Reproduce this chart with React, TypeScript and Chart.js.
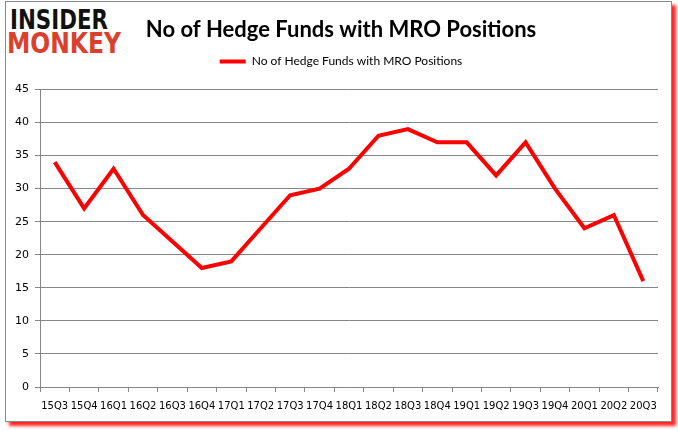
import React, { useEffect, useRef } from "react";
import { Chart, registerables } from "chart.js";

Chart.register(...registerables);

const categories = [
  "15Q3", "15Q4", "16Q1", "16Q2", "16Q3", "16Q4", "17Q1", "17Q2", "17Q3", "17Q4",
  "18Q1", "18Q2", "18Q3", "18Q4", "19Q1", "19Q2", "19Q3", "19Q4", "20Q1", "20Q2", "20Q3",
];
const hedgeFunds = [34, 27, 33, 26, 22, 18, 19, 24, 29, 30, 33, 38, 39, 37, 37, 32, 37, 30, 24, 26, 16];
const seriesName = "No of Hedge Funds with MRO Positions";
const chartTitle = "No of Hedge Funds with MRO Positions";
const yTicks = [0, 5, 10, 15, 20, 25, 30, 35, 40, 45];

export default function App() {
  const canvasRef = useRef<HTMLCanvasElement | null>(null);

  useEffect(() => {
    if (!canvasRef.current) return;
    const chart = new Chart(canvasRef.current, {
      type: "line",
      data: {
        labels: categories,
        datasets: [
          {
            label: seriesName,
            data: hedgeFunds,
            borderColor: "#ff0000",
            backgroundColor: "#ff0000",
            borderWidth: 4,
            pointRadius: 0,
            tension: 0,
            pointStyle: "line",
            yAxisID: "y",
          },
        ],
      },
      options: {
        responsive: false,
        animation: false,
        layout: { padding: { top: 0, left: 10, right: 6, bottom: 10 } },
        plugins: {
          title: {
            display: true,
            text: chartTitle,
            color: "#000",
            font: { family: "Lato", size: 22, weight: "bold", lineHeight: 1.2 },
            padding: { top: 17, bottom: 2 },
            weight: 4000,
          } as any,
          legend: {
            display: true,
            position: "top",
            weight: 3000,
            labels: {
              color: "#000",
              font: { family: "Lato", size: 12 },
              usePointStyle: true,
              pointStyle: "line",
              pointStyleWidth: 26,
              boxWidth: 26,
              padding: 10,
            },
          } as any,
          subtitle: {
            display: true,
            text: "",
            font: { size: 1, lineHeight: 1 },
            padding: { top: 11, bottom: 0 },
            weight: 500,
          } as any,
          tooltip: { enabled: false },
        },
        scales: {
          x: {
            offset: true,
            afterFit: (s: any) => {
              s.height = 34;
            },
            grid: {
              display: true,
              drawOnChartArea: false,
              drawTicks: true,
              tickLength: 5,
              color: "#868686",
              offset: true,
            },
            border: { display: true, color: "#868686", width: 1 },
            ticks: {
              autoSkip: false,
              maxRotation: 0,
              minRotation: 0,
              padding: 8,
              color: "#000",
              font: { family: "DejaVu Sans", size: 10 },
            },
          },
          y: {
            min: 0,
            max: 45,
            position: "left",
            afterFit: (s: any) => {
              s.width = 30;
            },
            afterBuildTicks: (s: any) => {
              s.ticks = yTicks.map((v) => ({ value: v }));
            },
            grid: {
              display: true,
              drawTicks: true,
              tickLength: 5,
              color: "#868686",
            },
            border: { display: true, color: "#868686", width: 1 },
            ticks: {
              stepSize: 5,
              padding: 6,
              color: "#000",
              font: { family: "DejaVu Sans", size: 11 },
            },
          },
          yRightSpacer: {
            type: "linear",
            position: "right",
            display: true,
            min: 0,
            max: 45,
            afterFit: (s: any) => {
              s.width = 14;
            },
            grid: { display: false, drawTicks: false },
            border: { display: false },
            ticks: { display: false },
          },
        },
      },
    });
    return () => chart.destroy();
  }, []);

  return (
    <div style={{ position: "absolute", left: 0, top: 0, width: 678, height: 431, background: "#fff", overflow: "hidden" }}>
      <div
        style={{
          position: "absolute",
          left: 5,
          top: 1,
          width: 665,
          height: 419,
          border: "1px solid #888",
          background: "#fff",
          boxShadow: "4px 4px 3px rgba(255,0,0,0.85)",
        }}
      />
      <svg style={{ position: "absolute", left: 0, top: 0 }} width={678} height={431}>
        <text
          x={10}
          y={29}
          textLength={98}
          lengthAdjust="spacingAndGlyphs"
          fill="#111"
          style={{ fontFamily: "DejaVu Sans", fontWeight: 900, fontSize: 27 }}
        >
          INSIDER
        </text>
        <text
          x={7}
          y={53}
          textLength={114}
          lengthAdjust="spacingAndGlyphs"
          fill="#d9412c"
          style={{ fontFamily: "DejaVu Sans", fontWeight: 900, fontSize: 28 }}
        >
          MONKEY
        </text>
      </svg>
      <canvas ref={canvasRef} width={678} height={431} style={{ position: "absolute", left: 0, top: 0 }} />
    </div>
  );
}
